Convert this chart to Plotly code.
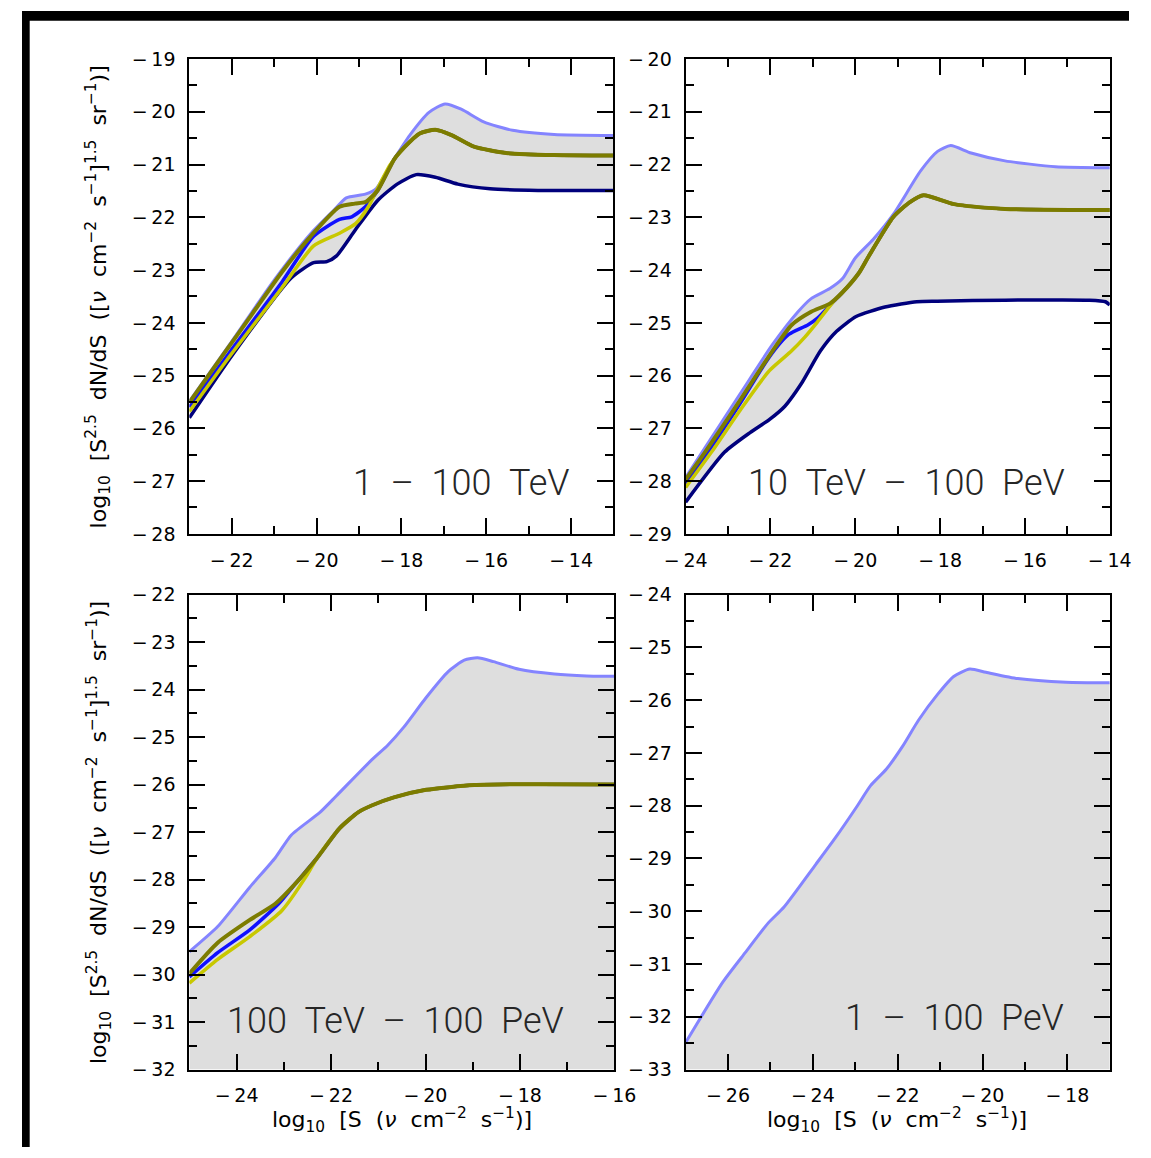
import plotly.graph_objects as go

W, H = 1151, 1158

# ---------------- data: log10 S  vs  log10 S^2.5 dN/dS ----------------
# Panel 1: 1 - 100 TeV
p1_light_x = [-23.0, -22.0, -21.0, -20.14, -19.6, -19.3, -18.85, -18.6, -18.2, -17.8, -17.35, -16.97, -16.59, -16.06, -15.38, -14.4, -13.0]
p1_light_y = [-25.49, -24.35, -23.19, -22.31, -21.87, -21.63, -21.56, -21.46, -20.93, -20.44, -20.01, -19.85, -19.95, -20.19, -20.35, -20.43, -20.45]
p1_navy_x = [-23.0, -21.96, -20.6, -20.07, -19.76, -19.53, -19.08, -18.56, -18.10, -17.65, -17.20, -16.67, -15.91, -14.78, -13.0]
p1_navy_y = [-25.80, -24.58, -23.15, -22.86, -22.84, -22.73, -22.23, -21.68, -21.37, -21.19, -21.24, -21.37, -21.46, -21.49, -21.49]
p1_olive_x = [-23.0, -22.18, -21.5, -20.82, -20.14, -19.46, -19.1, -18.85, -18.56, -18.17, -17.95, -17.57, -17.2, -16.82, -16.29, -15.53, -14.4, -13.0]
p1_olive_y = [-25.51, -24.58, -23.81, -23.04, -22.36, -21.80, -21.74, -21.71, -21.49, -20.90, -20.69, -20.41, -20.34, -20.44, -20.66, -20.78, -20.82, -20.83]
p1_blue_x = [-23.0, -22.07, -20.82, -20.07, -19.46, -19.17, -18.85, -18.56, -18.17, -17.95, -17.57, -17.2, -16.82, -16.29, -15.53, -14.4, -13.0]
p1_blue_y = [-25.60, -24.58, -23.23, -22.36, -22.04, -21.99, -21.80, -21.49, -20.90, -20.69, -20.41, -20.34, -20.44, -20.66, -20.78, -20.82, -20.83]
p1_yellow_x = [-23.0, -22.0, -20.82, -20.07, -19.46, -19.08, -18.78, -18.56, -18.26, -17.95, -17.57, -17.2, -16.82, -16.29, -15.53, -14.4, -13.0]
p1_yellow_y = [-25.68, -24.58, -23.34, -22.54, -22.30, -22.12, -21.80, -21.45, -21.0, -20.69, -20.41, -20.34, -20.44, -20.66, -20.78, -20.82, -20.83]

# Panel 2: 10 TeV - 100 PeV
p2_light_x = [-24.0, -23.61, -22.71, -21.95, -21.35, -21.04, -20.6, -20.3, -20.0, -19.58, -19.10, -18.46, -18.06, -17.75, -17.27, -16.47, -15.28, -14.0]
p2_light_y = [-27.93, -27.45, -26.34, -25.41, -24.79, -24.54, -24.35, -24.16, -23.77, -23.42, -22.94, -22.12, -21.75, -21.64, -21.78, -21.93, -22.04, -22.06]
p2_navy_x = [-24.0, -23.08, -22.48, -22.02, -21.66, -21.27, -20.82, -20.44, -19.98, -19.30, -18.55, -18.07, -16.47, -14.48, -14.1, -14.0]
p2_navy_y = [-28.40, -27.45, -27.08, -26.83, -26.58, -26.15, -25.53, -25.16, -24.88, -24.70, -24.60, -24.59, -24.57, -24.57, -24.60, -24.66]
p2_olive_x = [-24.0, -23.54, -22.71, -21.95, -21.50, -21.04, -20.59, -20.30, -19.91, -19.70, -19.10, -18.71, -18.39, -17.67, -16.47, -14.88, -14.0]
p2_olive_y = [-27.97, -27.45, -26.46, -25.53, -25.04, -24.79, -24.63, -24.42, -24.05, -23.76, -22.99, -22.71, -22.58, -22.75, -22.84, -22.86, -22.86]
p2_blue_x = [-24.0, -23.47, -22.71, -22.03, -21.57, -21.12, -20.89, -20.52, -20.30, -19.91, -19.70, -19.10, -18.71, -18.39, -17.67, -16.47, -14.88, -14.0]
p2_blue_y = [-28.05, -27.45, -26.52, -25.65, -25.22, -25.04, -24.91, -24.60, -24.42, -24.05, -23.76, -22.99, -22.71, -22.58, -22.75, -22.84, -22.86, -22.86]
p2_yellow_x = [-24.0, -23.39, -22.71, -22.03, -21.50, -21.20, -20.89, -20.52, -20.30, -19.91, -19.70, -19.10, -18.71, -18.39, -17.67, -16.47, -14.88, -14.0]
p2_yellow_y = [-28.12, -27.45, -26.65, -25.91, -25.53, -25.28, -24.98, -24.60, -24.42, -24.05, -23.76, -22.99, -22.71, -22.58, -22.75, -22.84, -22.86, -22.86]

# Panel 3: 100 TeV - 100 PeV
p3_light_x = [-25.0, -24.40, -23.72, -23.18, -22.84, -22.23, -21.89, -21.14, -20.80, -20.46, -19.99, -19.52, -19.18, -18.90, -18.56, -18.02, -17.27, -16.59, -16.0]
p3_light_y = [-29.52, -28.99, -28.16, -27.54, -27.06, -26.58, -26.24, -25.48, -25.17, -24.79, -24.17, -23.62, -23.38, -23.33, -23.41, -23.57, -23.67, -23.71, -23.72]
p3_olive_x = [-25.0, -24.40, -23.72, -23.18, -22.75, -22.30, -21.82, -21.42, -21.14, -20.67, -19.99, -18.97, -17.61, -16.0]
p3_olive_y = [-29.98, -29.33, -28.85, -28.51, -28.08, -27.55, -26.92, -26.58, -26.44, -26.27, -26.11, -26.01, -25.99, -26.00]
p3_blue_x = [-25.0, -24.40, -23.72, -23.11, -22.75, -22.30, -21.82, -21.42, -21.14, -20.67, -19.99, -18.97, -17.61, -16.0]
p3_blue_y = [-30.05, -29.54, -29.06, -28.51, -28.08, -27.55, -26.92, -26.58, -26.44, -26.27, -26.11, -26.01, -25.99, -26.00]
p3_yellow_x = [-25.0, -24.40, -23.72, -23.04, -22.50, -22.30, -21.82, -21.42, -21.14, -20.67, -19.99, -18.97, -17.61, -16.0]
p3_yellow_y = [-30.18, -29.68, -29.20, -28.65, -27.89, -27.55, -26.92, -26.58, -26.44, -26.27, -26.11, -26.01, -25.99, -26.00]

# Panel 4: 1 - 100 PeV
p4_light_x = [-27.0, -26.12, -25.59, -25.06, -24.68, -23.93, -23.48, -22.95, -22.64, -22.27, -21.89, -21.51, -21.06, -20.68, -20.30, -19.92, -19.17, -18.03, -17.0]
p4_light_y = [-32.49, -31.34, -30.78, -30.23, -29.92, -29.11, -28.62, -28.00, -27.62, -27.31, -26.88, -26.38, -25.89, -25.55, -25.41, -25.47, -25.59, -25.66, -25.67]

# axis ranges and tick labels
x_ranges = [[-23, -13], [-24, -14], [-25, -16], [-27, -17]]
y_ranges = [[-28, -19], [-29, -20], [-32, -22], [-33, -24]]
x_ticks = [[-22, -20, -18, -16, -14], [-24, -22, -20, -18, -16, -14],
           [-24, -22, -20, -18, -16], [-26, -24, -22, -20, -18]]
y_ticks = [list(range(-28, -18)), list(range(-29, -19)),
           list(range(-32, -21)), list(range(-33, -23))]
SP = "\u00a0\u00a0"
panel_labels = [f"1{SP}\u2013{SP}100{SP}TeV",
                f"10{SP}TeV{SP}\u2013{SP}100{SP}PeV",
                f"100{SP}TeV{SP}\u2013{SP}100{SP}PeV",
                f"1{SP}\u2013{SP}100{SP}PeV"]

# ---------------- styling ----------------
C_LIGHT = "#8484ff"
C_NAVY = "#00007c"
C_BLUE = "#1010ff"
C_YELLOW = "#c8c800"
C_OLIVE = "#7c7c00"
C_FILL = "#dedede"
TICK_FONT = dict(family="DejaVu Sans", size=19, color="black")

# panel boxes in pixels: (left, right, top, bottom)
boxes = [(174, 615, 49, 533), (690, 1131, 49, 533),
         (174, 616, 595, 1079), (690, 1131, 595, 1079)]

fig = go.Figure()


def line(x, y, color, width, k):
    fig.add_trace(go.Scatter(x=x, y=y, mode="lines", xaxis=f"x{k}", yaxis=f"y{k}",
                             line=dict(color=color, width=width, shape="spline", smoothing=0.6),
                             showlegend=False, hoverinfo="skip"))


def band(lx, ly, ux, uy, k):
    fig.add_trace(go.Scatter(x=lx, y=ly, mode="lines", xaxis=f"x{k}", yaxis=f"y{k}",
                             line=dict(width=0, shape="spline", smoothing=0.6),
                             showlegend=False, hoverinfo="skip"))
    fig.add_trace(go.Scatter(x=ux, y=uy, mode="lines", xaxis=f"x{k}", yaxis=f"y{k}",
                             line=dict(width=0, shape="spline", smoothing=0.6),
                             fill="tonexty", fillcolor=C_FILL,
                             showlegend=False, hoverinfo="skip"))


# panel 1
band(p1_navy_x, p1_navy_y, p1_light_x, p1_light_y, 1)
line(p1_light_x, p1_light_y, C_LIGHT, 3, 1)
line(p1_navy_x, p1_navy_y, C_NAVY, 3.5, 1)
line(p1_blue_x, p1_blue_y, C_BLUE, 3.5, 1)
line(p1_yellow_x, p1_yellow_y, C_YELLOW, 3.5, 1)
line(p1_olive_x, p1_olive_y, C_OLIVE, 4, 1)

# panel 2
band(p2_navy_x, p2_navy_y, p2_light_x, p2_light_y, 2)
line(p2_light_x, p2_light_y, C_LIGHT, 3, 2)
line(p2_navy_x, p2_navy_y, C_NAVY, 3.5, 2)
line(p2_blue_x, p2_blue_y, C_BLUE, 3.5, 2)
line(p2_yellow_x, p2_yellow_y, C_YELLOW, 3.5, 2)
line(p2_olive_x, p2_olive_y, C_OLIVE, 4, 2)

# panel 3 (band reaches the bottom of the axis)
band(x_ranges[2], [y_ranges[2][0]] * 2, p3_light_x, p3_light_y, 3)
line(p3_light_x, p3_light_y, C_LIGHT, 3, 3)
line(p3_blue_x, p3_blue_y, C_BLUE, 3.5, 3)
line(p3_yellow_x, p3_yellow_y, C_YELLOW, 3.5, 3)
line(p3_olive_x, p3_olive_y, C_OLIVE, 4, 3)

# panel 4
band(x_ranges[3], [y_ranges[3][0]] * 2, p4_light_x, p4_light_y, 4)
line(p4_light_x, p4_light_y, C_LIGHT, 3, 4)


def fmt(v):
    return ("\u2212\u2009" if v < 0 else "") + str(abs(v))


axis_common = dict(showline=True, linecolor="black", linewidth=2, mirror="allticks",
                   ticks="inside", ticklen=16, tickwidth=2, tickcolor="black",
                   showgrid=False, zeroline=False, tickfont=TICK_FONT,
                   ticklabelstandoff=8, fixedrange=True)

layout = dict(width=W, height=H, margin=dict(l=0, r=0, t=0, b=0, pad=0),
              paper_bgcolor="white", plot_bgcolor="white", showlegend=False)

for i, (l, r, t, b) in enumerate(boxes):
    k = i + 1
    xs = "" if k == 1 else str(k)
    layout[f"xaxis{xs}"] = dict(axis_common, domain=[l / W, r / W], anchor=f"y{xs}",
                                range=x_ranges[i], tickmode="array", tickvals=x_ticks[i],
                                ticktext=[fmt(v) for v in x_ticks[i]],
                                minor=dict(ticks="inside", ticklen=8, tickwidth=2, tickcolor="black",
                                           tickmode="linear", tick0=0, dtick=1, showgrid=False))
    layout[f"yaxis{xs}"] = dict(axis_common, domain=[1 - b / H, 1 - t / H], anchor=f"x{xs}",
                                range=y_ranges[i], tickmode="array", tickvals=y_ticks[i],
                                ticktext=[fmt(v) for v in y_ticks[i]],
                                minor=dict(ticks="inside", ticklen=8, tickwidth=2, tickcolor="black",
                                           tickmode="linear", tick0=0, dtick=0.5, showgrid=False))

fig.update_layout(**layout)

annotations = []
label_pos = [(572, 481), (1087, 481), (566, 1030), (1085, 1026)]
for (px, py), txt in zip(label_pos, panel_labels):
    annotations.append(dict(x=px / W, y=1 - py / H, xref="paper", yref="paper",
                            xanchor="right", yanchor="middle", showarrow=False, text=txt,
                            font=dict(family="Roboto", size=36, weight=300, color="#262626")))

ytitle = (f"log<sub>10</sub>{SP}[S<sup>2.5</sup>{SP}dN/dS{SP}([<i>\u03bd</i>{SP}cm<sup>\u22122</sup>"
          f"{SP}s<sup>\u22121</sup>]<sup>1.5</sup>{SP}sr<sup>\u22121</sup>)]")
xtitle = f"log<sub>10</sub>{SP}[S{SP}(<i>\u03bd</i>{SP}cm<sup>\u22122</sup>{SP}s<sup>\u22121</sup>)]"
TITLE_FONT = dict(family="DejaVu Sans", size=22, color="black")
for cy in (291, 837):
    annotations.append(dict(x=80 / W, y=1 - cy / H, xref="paper", yref="paper",
                            xanchor="center", yanchor="middle", textangle=-90,
                            showarrow=False, text=ytitle, font=TITLE_FONT))
for cx in (395, 910):
    annotations.append(dict(x=cx / W, y=1 - 1130 / H, xref="paper", yref="paper",
                            xanchor="center", yanchor="middle",
                            showarrow=False, text=xtitle, font=TITLE_FONT))

fig.update_layout(annotations=annotations)

# dark frame along the top and left edges of the page
fig.add_shape(type="rect", xref="paper", yref="paper", x0=0, x1=8 / W, y0=0, y1=1,
              fillcolor="black", line=dict(width=0), layer="above")
fig.add_shape(type="rect", xref="paper", yref="paper", x0=0, x1=1, y0=1 - 10 / H, y1=1,
              fillcolor="black", line=dict(width=0), layer="above")

# keep the page exactly the size of the figure
page_js = (
    "document.documentElement.style.margin='0';"
    "document.documentElement.style.overflow='hidden';"
    "document.body.style.margin='0';"
    "document.body.style.overflow='hidden';"
    "var g=document.getElementById('{plot_id}');"
    "g.style.overflow='hidden';g.style.width='1151px';g.style.height='1158px';"
)

fig.write_html("out.html", post_script=page_js)
